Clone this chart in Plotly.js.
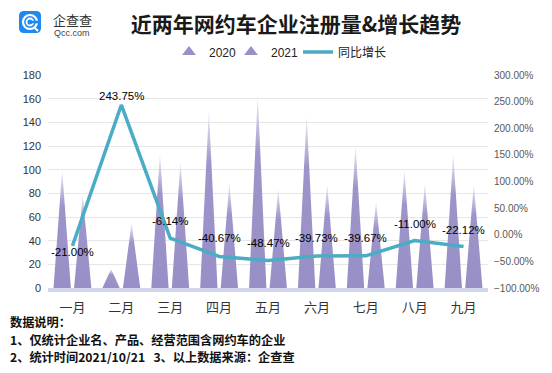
<!DOCTYPE html>
<html>
<head>
<meta charset="utf-8">
<script src="https://cdn.plot.ly/plotly-3.0.1.min.js"></script>
<style>html,body{margin:0;padding:0;background:#fff;}#chart{width:552px;height:373px;}</style>
</head>
<body>
<div id="chart"></div>
<script>
// ---- data ----
const months = ['一月','二月','三月','四月','五月','六月','七月','八月','九月'];
const v2020 = [100, 16, 114, 150, 163, 146, 121, 100, 113];
const v2021 = [79, 55, 107, 89, 84, 88, 73, 89, 88];
const growth = [-21.00, 243.75, -6.14, -40.67, -48.47, -39.73, -39.67, -11.00, -22.12];
const seriesNames = ['2020', '2021', '同比增长'];
const notes = ['数据说明：', '1、仅统计企业名、产品、经营范围含网约车的企业', '2、统计时间2021/10/21\u00a0\u00a0\u00a03、以上数据来源：企查查'];

// ---- styling / layout helpers ----
const W = 552, H = 373;
const M = {l: 48, r: 64, t: 75, b: 85};
const PW = W - M.l - M.r, PH = H - M.t - M.b;
const px2x = p => (p - M.l) / PW;
const py2y = p => (H - M.b - p) / PH;
const purple = '#9990c7';
const teal = '#4bacc6';
const cjk = '"Noto Sans CJK SC", "Microsoft YaHei", sans-serif';
const latin = '"Liberation Sans", Arial, sans-serif';
const mixed = '"Liberation Sans", "Noto Sans CJK SC", sans-serif';
const labelShift = [-6, 9, 17, 18, 17.5, 17.5, 17.5, 17, 17];
const offset = 0.21, halfW = 0.177;
const grad = {type: 'vertical', colorscale: [[0, '#988fc6'], [0.7, '#9d95ca'], [1, '#f0eef7']]};

const idx = months.map((m, i) => i);
const traces = [];
[v2020, v2021].forEach((vals, s) => {
  const off = s === 0 ? -offset : offset;
  vals.forEach((v, i) => {
    const c = i + off;
    traces.push({
      x: [c - halfW, c, c + halfW, c - halfW], y: [0, v, 0, 0],
      type: 'scatter', mode: 'lines', fill: 'toself',
      fillcolor: purple, fillgradient: grad,
      line: {width: 0, color: 'rgba(0,0,0,0)'},
      showlegend: false, hoverinfo: 'skip', xaxis: 'x', yaxis: 'y'
    });
  });
});
// legend entries for the triangle series
traces.push({x: [null], y: [null], type: 'scatter', mode: 'markers', name: seriesNames[0],
  marker: {symbol: 'triangle-up', size: 12, color: purple}, legend: 'legend'});
traces.push({x: [null], y: [null], type: 'scatter', mode: 'markers', name: seriesNames[1],
  marker: {symbol: 'triangle-up', size: 12, color: purple}, legend: 'legend2'});
traces.push({
  x: idx, y: growth, yaxis: 'y2', type: 'scatter', mode: 'lines', name: seriesNames[2],
  line: {color: teal, width: 3.5, shape: 'linear'}, legend: 'legend3', hoverinfo: 'skip'
});

const annotations = growth.map((g, i) => ({
  x: i, y: g, xref: 'x', yref: 'y2', text: g.toFixed(2) + '%', showarrow: false,
  yanchor: 'middle', xanchor: 'center', yshift: labelShift[i],
  font: {family: latin, size: 11.5, color: '#000'}
}));
const noteY = [322, 339.5, 357];
notes.forEach((t, k) => annotations.push({
  xref: 'paper', yref: 'paper', x: px2x(8), y: py2y(noteY[k]), xanchor: 'left', yanchor: 'middle',
  showarrow: false, text: '<b>' + t + '</b>', font: {family: cjk, size: 12.2, color: '#111'}
}));
// logo text
annotations.push({xref: 'paper', yref: 'paper', x: px2x(72), y: py2y(19.5), xanchor: 'center', yanchor: 'middle',
  showarrow: false, text: '企查查', font: {family: cjk, size: 13, color: '#333'}});
annotations.push({xref: 'paper', yref: 'paper', x: px2x(72), y: py2y(33), xanchor: 'center', yanchor: 'middle',
  showarrow: false, text: 'Qcc.com', font: {family: latin, size: 9, color: '#444'}});

function rr(x0, y0, x1, y1, r) {
  const X = px2x, Y = py2y;
  return `M${X(x0 + r)},${Y(y0)} L${X(x1 - r)},${Y(y0)} Q${X(x1)},${Y(y0)} ${X(x1)},${Y(y0 + r)} ` +
    `L${X(x1)},${Y(y1 - r)} Q${X(x1)},${Y(y1)} ${X(x1 - r)},${Y(y1)} L${X(x0 + r)},${Y(y1)} ` +
    `Q${X(x0)},${Y(y1)} ${X(x0)},${Y(y1 - r)} L${X(x0)},${Y(y0 + r)} Q${X(x0)},${Y(y0)} ${X(x0 + r)},${Y(y0)} Z`;
}
const logoBlue = '#1e8af0';
const shapes = [
  {type: 'path', xref: 'paper', yref: 'paper', path: rr(19, 11, 41, 33, 5), fillcolor: logoBlue, line: {width: 0}},
  {type: 'circle', xref: 'paper', yref: 'paper', x0: px2x(23), x1: px2x(37), y0: py2y(29), y1: py2y(15), line: {color: '#fff', width: 2.2}},
  {type: 'circle', xref: 'paper', yref: 'paper', x0: px2x(26.5), x1: px2x(33.5), y0: py2y(25.5), y1: py2y(18.5), line: {color: '#fff', width: 1.8}},
  {type: 'rect', xref: 'paper', yref: 'paper', x0: px2x(31), x1: px2x(38.5), y0: py2y(23.3), y1: py2y(20.7), fillcolor: logoBlue, line: {width: 0}},
  {type: 'line', xref: 'paper', yref: 'paper', x0: px2x(34), x1: px2x(38), y0: py2y(27), y1: py2y(31), line: {color: '#fff', width: 2}}
];

const legendBase = {orientation: 'h', xanchor: 'left', y: py2y(52), yanchor: 'middle',
  font: {family: mixed, size: 12, color: '#222'}, bgcolor: 'rgba(0,0,0,0)', itemwidth: 30};

const layout = {
  width: W, height: H, margin: M, paper_bgcolor: '#fff', plot_bgcolor: '#fff',
  title: {text: '近两年网约车企业注册量&增长趋势', x: 296 / W, xanchor: 'center', y: 1 - 25 / H, yanchor: 'middle',
    font: {family: cjk, size: 21, weight: 700, color: '#1a1a1a'}},
  showlegend: true,
  legend: Object.assign({}, legendBase, {x: px2x(169)}),
  legend2: Object.assign({}, legendBase, {x: px2x(231)}),
  legend3: Object.assign({}, legendBase, {x: px2x(298)}),
  xaxis: {range: [-0.5, 8.5], tickvals: idx, ticktext: months, showgrid: false, zeroline: false,
    showline: true, linecolor: '#d3d5ec', linewidth: 4, ticks: '', ticklabelstandoff: 4,
    tickfont: {family: cjk, size: 13, color: '#333'}, fixedrange: true},
  yaxis: {range: [0, 180], dtick: 20, gridcolor: '#e6e6e6', gridwidth: 1, zeroline: false, ticks: '',
    ticklabelstandoff: 6, tickfont: {family: latin, size: 11, color: '#333'}, fixedrange: true},
  yaxis2: {range: [-100, 300], dtick: 50, overlaying: 'y', side: 'right', showgrid: false, zeroline: false,
    tickformat: '.2f', ticksuffix: '%', ticks: '', ticklabelstandoff: 5,
    tickfont: {family: latin, size: 10, color: '#595959'}, fixedrange: true},
  annotations: annotations, shapes: shapes
};
Plotly.newPlot('chart', traces, layout, {displayModeBar: false, staticPlot: true});
</script>
</body>
</html>
